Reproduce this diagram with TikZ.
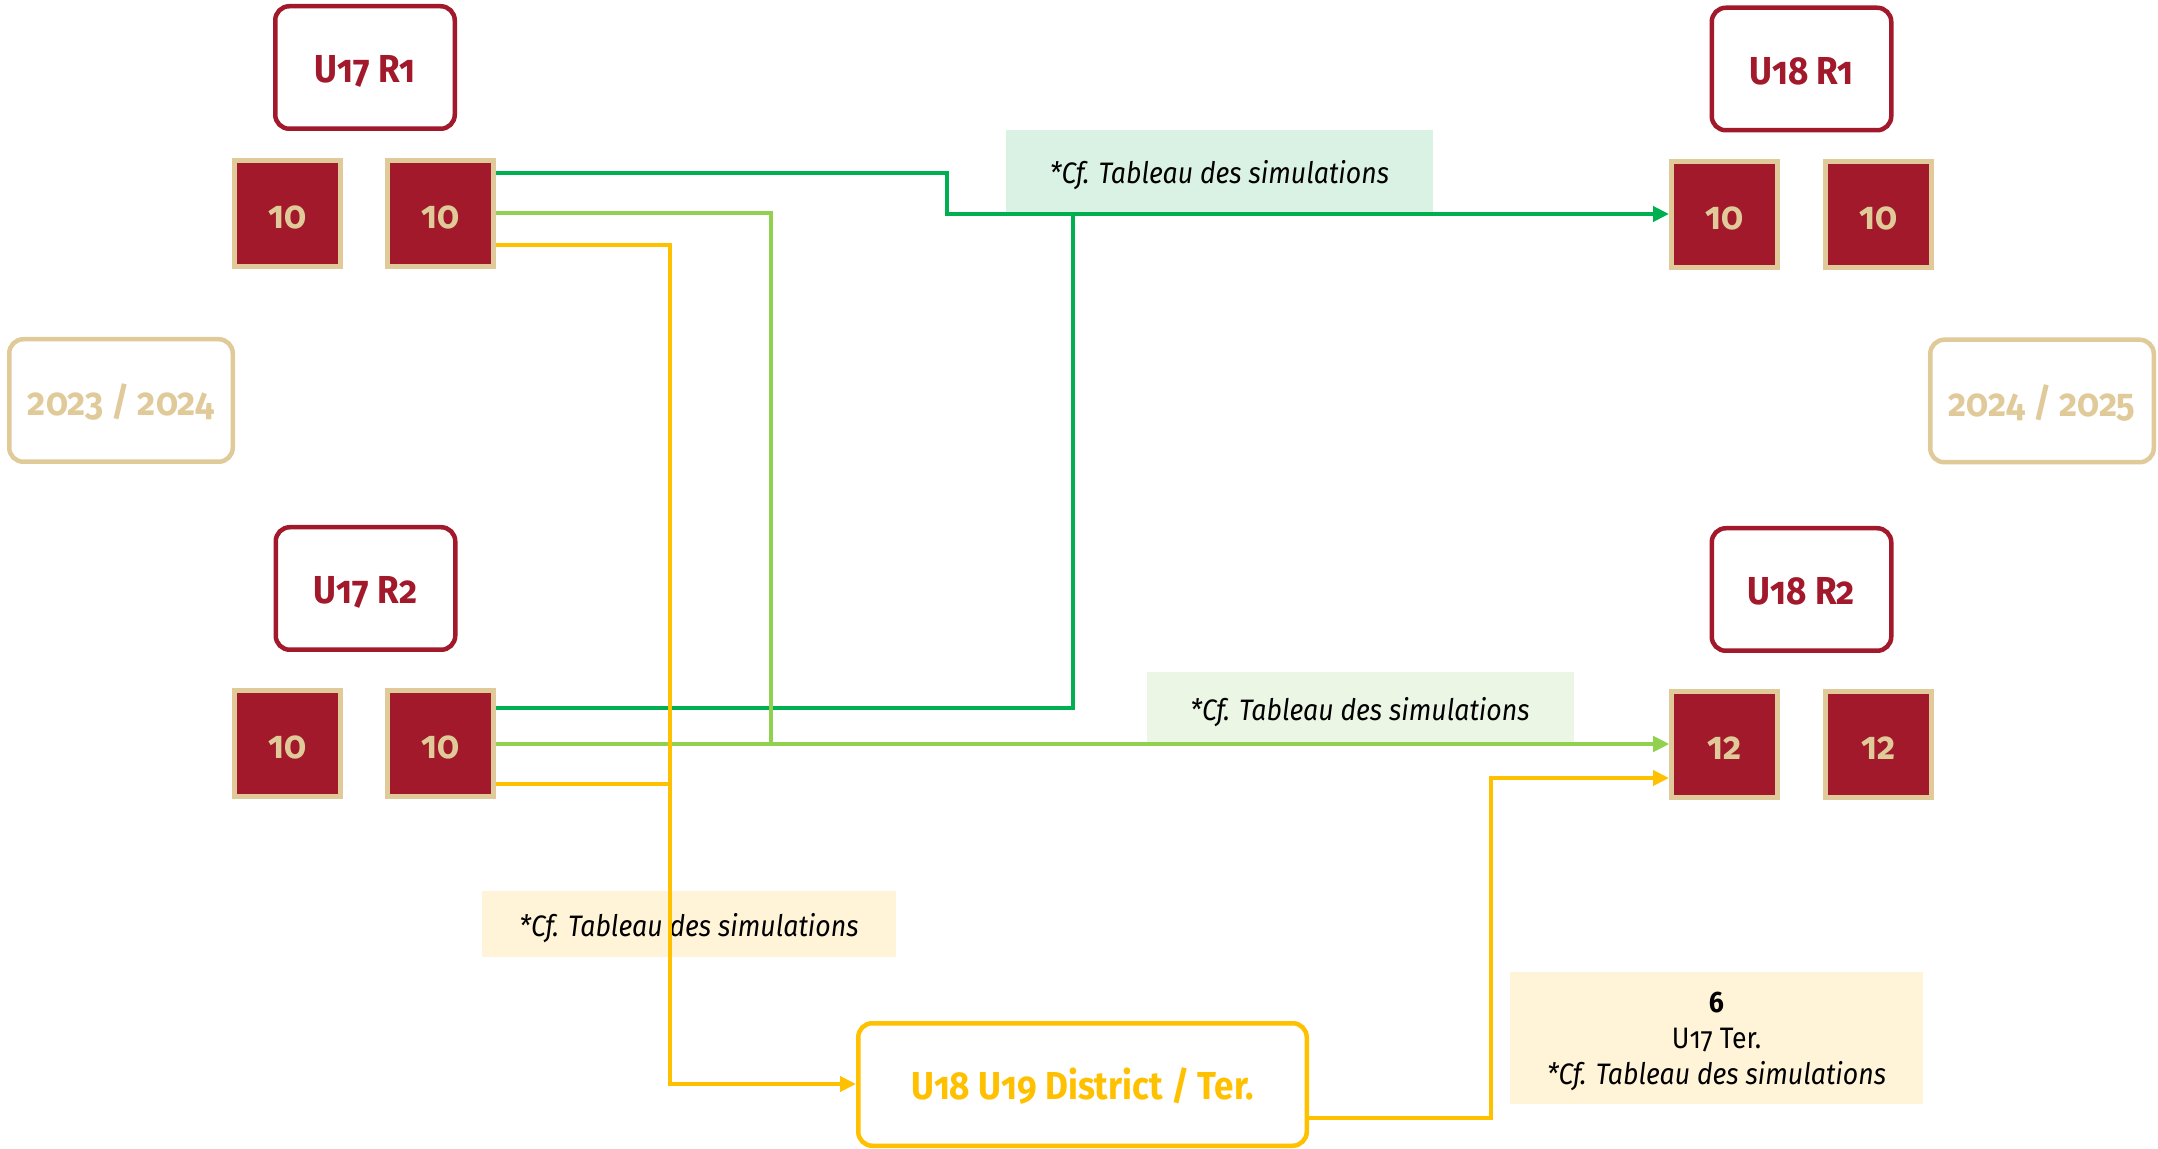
\documentclass[tikz,border=0pt]{standalone}
\usepackage{fontspec}
\setmainfont{Fira Sans}[Numbers=OldStyle, FakeStretch=0.9]
\usetikzlibrary{arrows.meta}
\definecolor{dred}{RGB}{161,25,42}
\definecolor{tanc}{RGB}{224,202,154}
\definecolor{gA}{RGB}{0,176,80}
\definecolor{gB}{RGB}{146,208,80}
\definecolor{yA}{RGB}{255,192,0}
\definecolor{bgA}{RGB}{218,242,228}
\definecolor{bgB}{RGB}{236,246,228}
\definecolor{bgY}{RGB}{255,244,215}
\newcommand\lowr[2]{\raisebox{-#1}[\height][\depth]{#2}}
\tikzset{
  bigfont/.style={font=\fontsize{19.5}{23}\selectfont\bfseries, text height=15.4pt, text depth=0pt},
  smallfont/.style={font=\fontsize{14.8}{18}\selectfont},
  titlebox/.style={draw=dred, line width=2.25pt, rounded corners=7pt, fill=white,
    minimum width=89.75pt, minimum height=61.25pt, inner sep=0pt, text=dred, bigfont},
  yearbox/.style={draw=tanc, line width=2.25pt, rounded corners=7pt, fill=white,
    minimum width=111.75pt, minimum height=61.25pt, inner sep=0pt, text=tanc, bigfont},
  distbox/.style={draw=yA, line width=2.25pt, rounded corners=7pt, fill=white,
    minimum width=224.25pt, minimum height=61.25pt, inner sep=0pt, text=yA, bigfont},
  cntbox/.style={draw=tanc, fill=dred, line width=2.5pt, minimum width=53pt,
    minimum height=53pt, inner sep=0pt, text=tanc, bigfont},
  notebox/.style={inner sep=0pt, smallfont, align=center},
  conn/.style={line width=2.15pt},
  tip/.style={-{Triangle[length=8pt,width=7.5pt]}}
}
\begin{document}
\begin{tikzpicture}[x=0.5pt,y=-0.5pt]
\useasboundingbox (0,0) rectangle (2158,1149);
% note boxes (background)
\node[notebox, fill=bgA, minimum width=213.5pt, minimum height=41pt] (nA) at (1219.5,171) {\lowr{2pt}{\itshape *Cf. Tableau des simulations}};
\node[notebox, fill=bgB, minimum width=213.5pt, minimum height=36.5pt] (nB) at (1360,708.5) {\lowr{2pt}{\itshape *Cf. Tableau des simulations}};
\node[notebox, fill=bgY, minimum width=207pt, minimum height=33pt] (nC) at (689,924) {\lowr{2pt}{\itshape *Cf. Tableau des simulations}};
\node[notebox, fill=bgY, minimum width=206.5pt, minimum height=66pt] (nD) at (1716.5,1038) {\lowr{1.75pt}{\setlength\tabcolsep{0pt}\begin{tabular}{c}\textbf{6}\\U17 Ter.\\\itshape *Cf. Tableau des simulations\end{tabular}}};
% title boxes
\node[titlebox] (t17a) at (365,67.5) {U17 R1};
\node[titlebox] (t18a) at (1801.5,69) {U18 R1};
\node[titlebox] (t17b) at (365.5,588.5) {U17 R2};
\node[titlebox] (t18b) at (1801.5,589.5) {U18 R2};
% year boxes
\node[yearbox] (y1) at (121,400.5) {2023 / 2024};
\node[yearbox] (y2) at (2042,401) {2024 / 2025};
% count boxes
\node[cntbox] (A1) at (287.5,213.5) {10};
\node[cntbox] (A2) at (440.5,213.5) {10};
\node[cntbox] (B1) at (287.5,743.5) {10};
\node[cntbox] (B2) at (440.5,743.5) {10};
\node[cntbox] (C1) at (1724.5,214.5) {10};
\node[cntbox] (C2) at (1878.5,214.5) {10};
\node[cntbox] (D1) at (1724.5,744.5) {12};
\node[cntbox] (D2) at (1878.5,744.5) {12};
% district
\node[distbox] (dist) at (1082.5,1084.5) {U18 U19 District / Ter.};
% junction coordinates
\coordinate (gj) at (1073,214);
\coordinate (yj) at (670,784);
% connectors
\draw[conn, draw=gA, tip] (A2.east |- 0,173) -- (947,173) -- (947,214) -- (C1.west |- 0,214);
\draw[conn, draw=gA] (B2.east |- 0,708) -| (gj);
\draw[conn, draw=gB, tip] (A2.east |- 0,213) -- (771,213) -- (771,744) -- (D1.west |- 0,744);
\draw[conn, draw=gB, tip] (B2.east |- 0,744) -- (D1.west |- 0,744);
\draw[conn, draw=yA, tip] (A2.east |- 0,245) -- (670,245) -- (670,1084) -- (dist.west |- 0,1084);
\draw[conn, draw=yA] (B2.east |- 0,784) -- (yj);
\draw[conn, draw=yA, tip] (dist.east |- 0,1118) -- (1491,1118) -- (1491,778) -- (D1.west |- 0,778);
\end{tikzpicture}
\end{document}
